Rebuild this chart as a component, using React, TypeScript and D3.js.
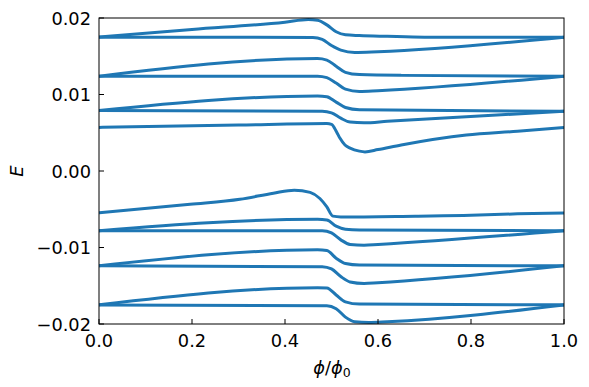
import * as d3 from 'd3';

// phi / phi0 and energy pairs
type Pt = [number, number];

const a1: Pt[] = [[0, 0.0175], [0.2, 0.0185], [0.4, 0.01945], [0.45, 0.0198], [0.47, 0.0197], [0.49, 0.0191], [0.51, 0.0182], [0.53, 0.0178], [0.56, 0.0177], [0.62, 0.0176], [0.7, 0.0175], [1, 0.0175]];
const a2: Pt[] = [[0, 0.0175], [0.3, 0.0175], [0.46, 0.01745], [0.48, 0.0172], [0.5, 0.0164], [0.52, 0.0158], [0.55, 0.0155], [0.6, 0.0156], [1, 0.0175]];
const b1: Pt[] = [[0, 0.0124], [0.47, 0.0147], [0.49, 0.0145], [0.51, 0.0137], [0.53, 0.0129], [0.56, 0.0126], [0.65, 0.0125], [1, 0.0124]];
const b2: Pt[] = [[0, 0.0124], [0.47, 0.0124], [0.49, 0.0122], [0.51, 0.0115], [0.53, 0.0107], [0.56, 0.0104], [0.6, 0.0105], [1, 0.0124]];
const c1: Pt[] = [[0, 0.0079], [0.47, 0.0098], [0.49, 0.0097], [0.51, 0.0090], [0.53, 0.0083], [0.56, 0.0080], [1, 0.0078]];
const c2: Pt[] = [[0, 0.0079], [0.48, 0.0078], [0.5, 0.0076], [0.52, 0.0069], [0.54, 0.0064], [0.57, 0.0063], [0.62, 0.0065], [1, 0.0078]];
const d: Pt[] = [[0, 0.0057], [0.3, 0.006], [0.49, 0.0062], [0.5, 0.0061], [0.511, 0.0051], [0.518, 0.0043], [0.529, 0.0034], [0.54, 0.003], [0.56, 0.0026], [0.572, 0.0025], [0.6, 0.0028], [0.65, 0.0034], [0.79, 0.0047], [0.9, 0.0052], [1, 0.0057]];
const e: Pt[] = [[0, -0.00545], [0.196, -0.00436], [0.303, -0.0037], [0.375, -0.0029], [0.42, -0.0025], [0.454, -0.0028], [0.475, -0.0036], [0.49, -0.0047], [0.503, -0.0059], [0.52, -0.006], [0.68, -0.0059], [0.8, -0.0058], [0.9, -0.0056], [1, -0.0055]];
const f1: Pt[] = [[0, -0.0078], [0.47, -0.0063], [0.49, -0.0064], [0.51, -0.0072], [0.53, -0.0076], [0.56, -0.0077], [1, -0.0078]];
const f2: Pt[] = [[0, -0.0078], [0.48, -0.0078], [0.5, -0.0081], [0.52, -0.009], [0.54, -0.0096], [0.57, -0.0097], [0.6, -0.0096], [1, -0.0078]];
const g1: Pt[] = [[0, -0.0124], [0.47, -0.0103], [0.49, -0.0104], [0.51, -0.0114], [0.53, -0.0121], [0.56, -0.0123], [1, -0.0124]];
const g2: Pt[] = [[0, -0.0124], [0.48, -0.0125], [0.5, -0.0128], [0.52, -0.0138], [0.54, -0.0145], [0.57, -0.0147], [0.6, -0.0146], [1, -0.0124]];
const h1: Pt[] = [[0, -0.0175], [0.47, -0.01525], [0.49, -0.0153], [0.51, -0.0162], [0.53, -0.0171], [0.56, -0.0174], [1, -0.0175]];
const h2: Pt[] = [[0, -0.0175], [0.49, -0.0176], [0.51, -0.018], [0.53, -0.0191], [0.55, -0.0197], [0.58, -0.0198], [0.62, -0.0197], [1, -0.0175]];

const curves = [a1, a2, b1, b2, c1, c2, d, e, f1, f2, g1, g2, h1, h2];

const xTicks = [0, 0.2, 0.4, 0.6, 0.8, 1.0];
const yTicks = [-0.02, -0.01, 0, 0.01, 0.02];

const W = 589;
const H = 387;
const left = 99;
const right = 564;
const top = 18;
const bottom = 324;
const font = 'DejaVu Sans, sans-serif';
const fs = 17.8;

export default function App() {
  const x = d3.scaleLinear().domain([0, 1]).range([left, right]);
  const y = d3.scaleLinear().domain([-0.02, 0.02]).range([bottom, top]);
  const line = d3
    .line<Pt>()
    .x((p) => x(p[0]))
    .y((p) => y(p[1]))
    .curve(d3.curveMonotoneX);

  const fmtY = (v: number) => (v < 0 ? '\u2212' : '') + Math.abs(v).toFixed(2);

  return (
    <svg width={W} height={H} style={{ position: 'absolute', left: 0, top: 0 }}>
      <rect width={W} height={H} fill="#fff" />
      <defs>
        <clipPath id="plot">
          <rect x={left} y={top} width={right - left} height={bottom - top} />
        </clipPath>
      </defs>
      <g clipPath="url(#plot)">
        {curves.map((c, i) => (
          <path key={i} d={line(c) || ''} fill="none" stroke="#1f77b4" strokeWidth={3} strokeLinejoin="round" />
        ))}
      </g>
      <rect x={left} y={top} width={right - left} height={bottom - top} fill="none" stroke="#000" strokeWidth={1} />
      {xTicks.map((t) => (
        <g key={t}>
          <line x1={x(t)} x2={x(t)} y1={bottom} y2={bottom - 5} stroke="#000" />
          <text x={x(t)} y={347} textAnchor="middle" fontFamily={font} fontSize={fs}>
            {t.toFixed(1)}
          </text>
        </g>
      ))}
      {yTicks.map((t) => (
        <g key={t}>
          <line x1={left} x2={left + 5} y1={y(t)} y2={y(t)} stroke="#000" />
          <text x={91} y={y(t) + 6.5} textAnchor="end" fontFamily={font} fontSize={fs}>
            {fmtY(t)}
          </text>
        </g>
      ))}
      <text x={332} y={374} textAnchor="middle" fontFamily={font} fontSize={fs}>
        <tspan fontStyle="italic">{'\u03d5'}</tspan>
        <tspan>/</tspan>
        <tspan fontStyle="italic">{'\u03d5'}</tspan>
        <tspan fontSize={12.5} dy={3}>0</tspan>
      </text>
      <text
        transform={`translate(23, ${(top + bottom) / 2}) rotate(-90)`}
        textAnchor="middle"
        fontFamily={font}
        fontSize={fs}
        fontStyle="italic"
      >
        E
      </text>
    </svg>
  );
}
